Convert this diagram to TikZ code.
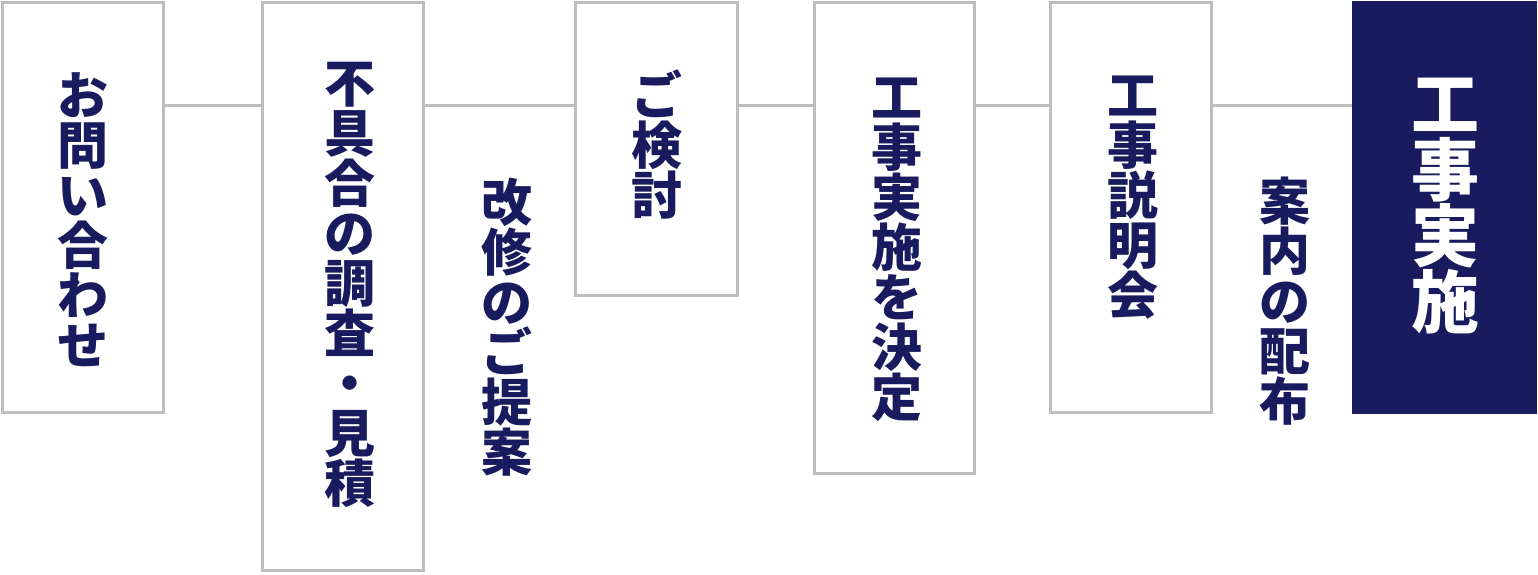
\documentclass[tikz,border=0pt]{standalone}
\usepackage{fontspec}
\newfontfamily\jpfont{Noto Sans CJK JP}
\usepackage{tikz}
\usetikzlibrary{positioning}
\definecolor{navy}{HTML}{181C5E}
\definecolor{boxgray}{HTML}{BDBDBD}
\tikzstyle{gbox} = [rectangle, draw=boxgray, line width=3pt, inner sep=0pt]
\tikzstyle{nbox} = [rectangle, fill=navy, draw=none, inner sep=0pt]
\tikzstyle{jtext} = [align=center, inner sep=0pt, text=navy, font=\fontsize{51}{50}\selectfont\jpfont\bfseries]
\tikzstyle{bigtext} = [align=center, inner sep=0pt, text=white, font=\fontsize{68}{66}\selectfont\jpfont\bfseries]
\tikzstyle{line} = [draw=boxgray, line width=3pt]

\begin{document}
\begin{tikzpicture}[x=1pt, y=-1pt]
			\useasboundingbox (0,0) rectangle (1538,575);
			\node [gbox, minimum width=161pt, minimum height=410pt] (b1) at (83, 207.5) {};
			\node [gbox, minimum width=160.5pt, minimum height=567.5pt] (b2) at (342.75, 286.25) {};
			\node [gbox, minimum width=161.5pt, minimum height=293pt] (b4) at (656.25, 149) {};
			\node [gbox, minimum width=160pt, minimum height=470.5pt] (b5) at (894, 237.75) {};
			\node [gbox, minimum width=161pt, minimum height=410pt] (b6) at (1131, 207.5) {};
			\node [nbox, minimum width=185pt, minimum height=413pt] (b7) at (1444.5, 207.5) {};
			\coordinate (ln) at (0, 106);
			
			\node [jtext] (t1) at (83, 220) {お\\問\\い\\合\\わ\\せ};
			\node [jtext] (t2) at (350, 285) {不\\具\\合\\の\\調\\査\\・\\見\\積};
			\node [jtext] (t3) at (507, 327) {改\\修\\の\\ご\\提\\案};
			\node [jtext] (t4) at (657, 145) {ご\\検\\討};
			\node [jtext] (t5) at (897, 250) {工\\事\\実\\施\\を\\決\\定};
			\node [jtext] (t6) at (1133, 198) {工\\事\\説\\明\\会};
			\node [jtext] (t7) at (1285, 301) {案\\内\\の\\配\\布};
			\node [bigtext] (t8) at (1445, 206) {工\\事\\実\\施};
			
			\path [line] (b1.east |- ln) -- (b2.west |- ln);
			\path [line] (b2.east |- ln) -- (b4.west |- ln);
			\path [line] (b4.east |- ln) -- (b5.west |- ln);
			\path [line] (b5.east |- ln) -- (b6.west |- ln);
			\path [line] (b6.east |- ln) -- (b7.west |- ln);
		\end{tikzpicture}
\end{document}
